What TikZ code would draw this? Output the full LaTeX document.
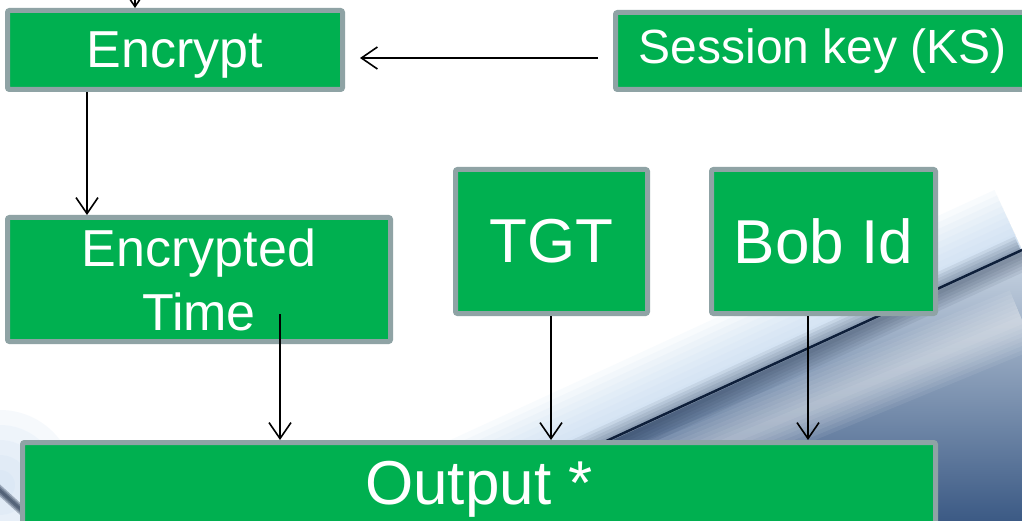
\documentclass[tikz,border=0pt]{standalone}
\usepackage{fontspec}
\setmainfont{Liberation Sans}
\usetikzlibrary{arrows.meta}
\definecolor{boxgreen}{HTML}{00B050}
\definecolor{boxedge}{HTML}{8FA3A5}
\definecolor{glowblue}{HTML}{B9D3EE}
\definecolor{swlight}{HTML}{C9D5E3}
\definecolor{swmid}{HTML}{7F9BBD}
\definecolor{swdark}{HTML}{274877}
\definecolor{swline}{HTML}{0E1F3A}
\begin{document}
\begin{tikzpicture}[x=1pt,y=-1pt,
  box/.style={draw=boxedge, fill=boxgreen, line width=5pt, rounded corners=2pt,
    text=white, inner sep=0pt, align=center},
  fmid/.style={font=\fontsize{52}{64}\selectfont},
  fsmall/.style={font=\fontsize{48}{57}\selectfont},
  fbig/.style={font=\fontsize{62}{74}\selectfont},
  arr/.style={draw=black, line width=1.6pt,
    -{Straight Barb[length=16pt,width=22pt,line width=1.6pt]}}]
\useasboundingbox (0,0) rectangle (1022,521);
% slide background swoosh
\begin{scope}
\clip (0,0) rectangle (1022,521);
\fill[white] (0,0) rectangle (1022,521);
\foreach \w in {12,24,...,132}
  \draw[line width=\w pt, glowblue, opacity=0.09] (380,545) -- (1022,250);
\shade[top color=swlight, middle color=swmid, bottom color=swdark]
  (380,547) -- (1022,252) -- (1022,560) -- (380,560) -- cycle;
\foreach \w in {8,16,...,64}
  \draw[line width=\w pt, white, opacity=0.07] (380,585) -- (1022,320);
\foreach \w in {6,12,...,36}
  \draw[line width=\w pt, swline, opacity=0.07] (380,548) -- (1022,253);
\draw[line width=2.5pt, swline] (380,545) -- (1022,250);
\foreach \r in {15,30,...,75}
  \fill[glowblue, opacity=0.12] (0,485) circle [radius=\r pt];
\foreach \w in {3,6,9}
  \draw[line width=\w pt, swline, opacity=0.3] (-5,486) -- (28,516);
\end{scope}
% boxes
\node[box, fmid, minimum width=335pt, minimum height=79pt, text depth=1pt] (enc) at (175,50) {Encrypt};
\node[box, fsmall, minimum width=414.5pt, minimum height=77pt] (sk) at (822.75,51) {Session key (KS)};
\node[box, fmid, minimum width=383pt, minimum height=124pt] (et) at (199,279.5) {Encrypted\\Time};
\node[box, fbig, minimum width=192pt, minimum height=144pt] (tgt) at (551.5,241.5) {TGT};
\node[box, fbig, minimum width=224pt, minimum height=144pt] (bob) at (823.5,241.5) {Bob Id};
\node[box, fbig, minimum width=913pt, minimum height=94pt] (out) at (479,489.5) {Output *};
% connectors
\coordinate (top) at (135,-12);
\coordinate (x1) at (87,0);
\coordinate (ky) at (0,58);
\coordinate (s1) at (280,314);
\coordinate (x2) at (551,0);
\coordinate (x3) at (808,0);
\draw[arr] (top) -- (enc.north -| top);
\draw[arr] (enc.south -| x1) -- (et.north -| x1);
\draw[arr, shorten <=15pt, shorten >=15pt] (sk.west |- ky) -- (enc.east |- ky);
\draw[arr] (s1) -- (out.north -| s1);
\draw[arr] (tgt.south -| x2) -- (out.north -| x2);
\draw[arr] (bob.south -| x3) -- (out.north -| x3);
\end{tikzpicture}
\end{document}
